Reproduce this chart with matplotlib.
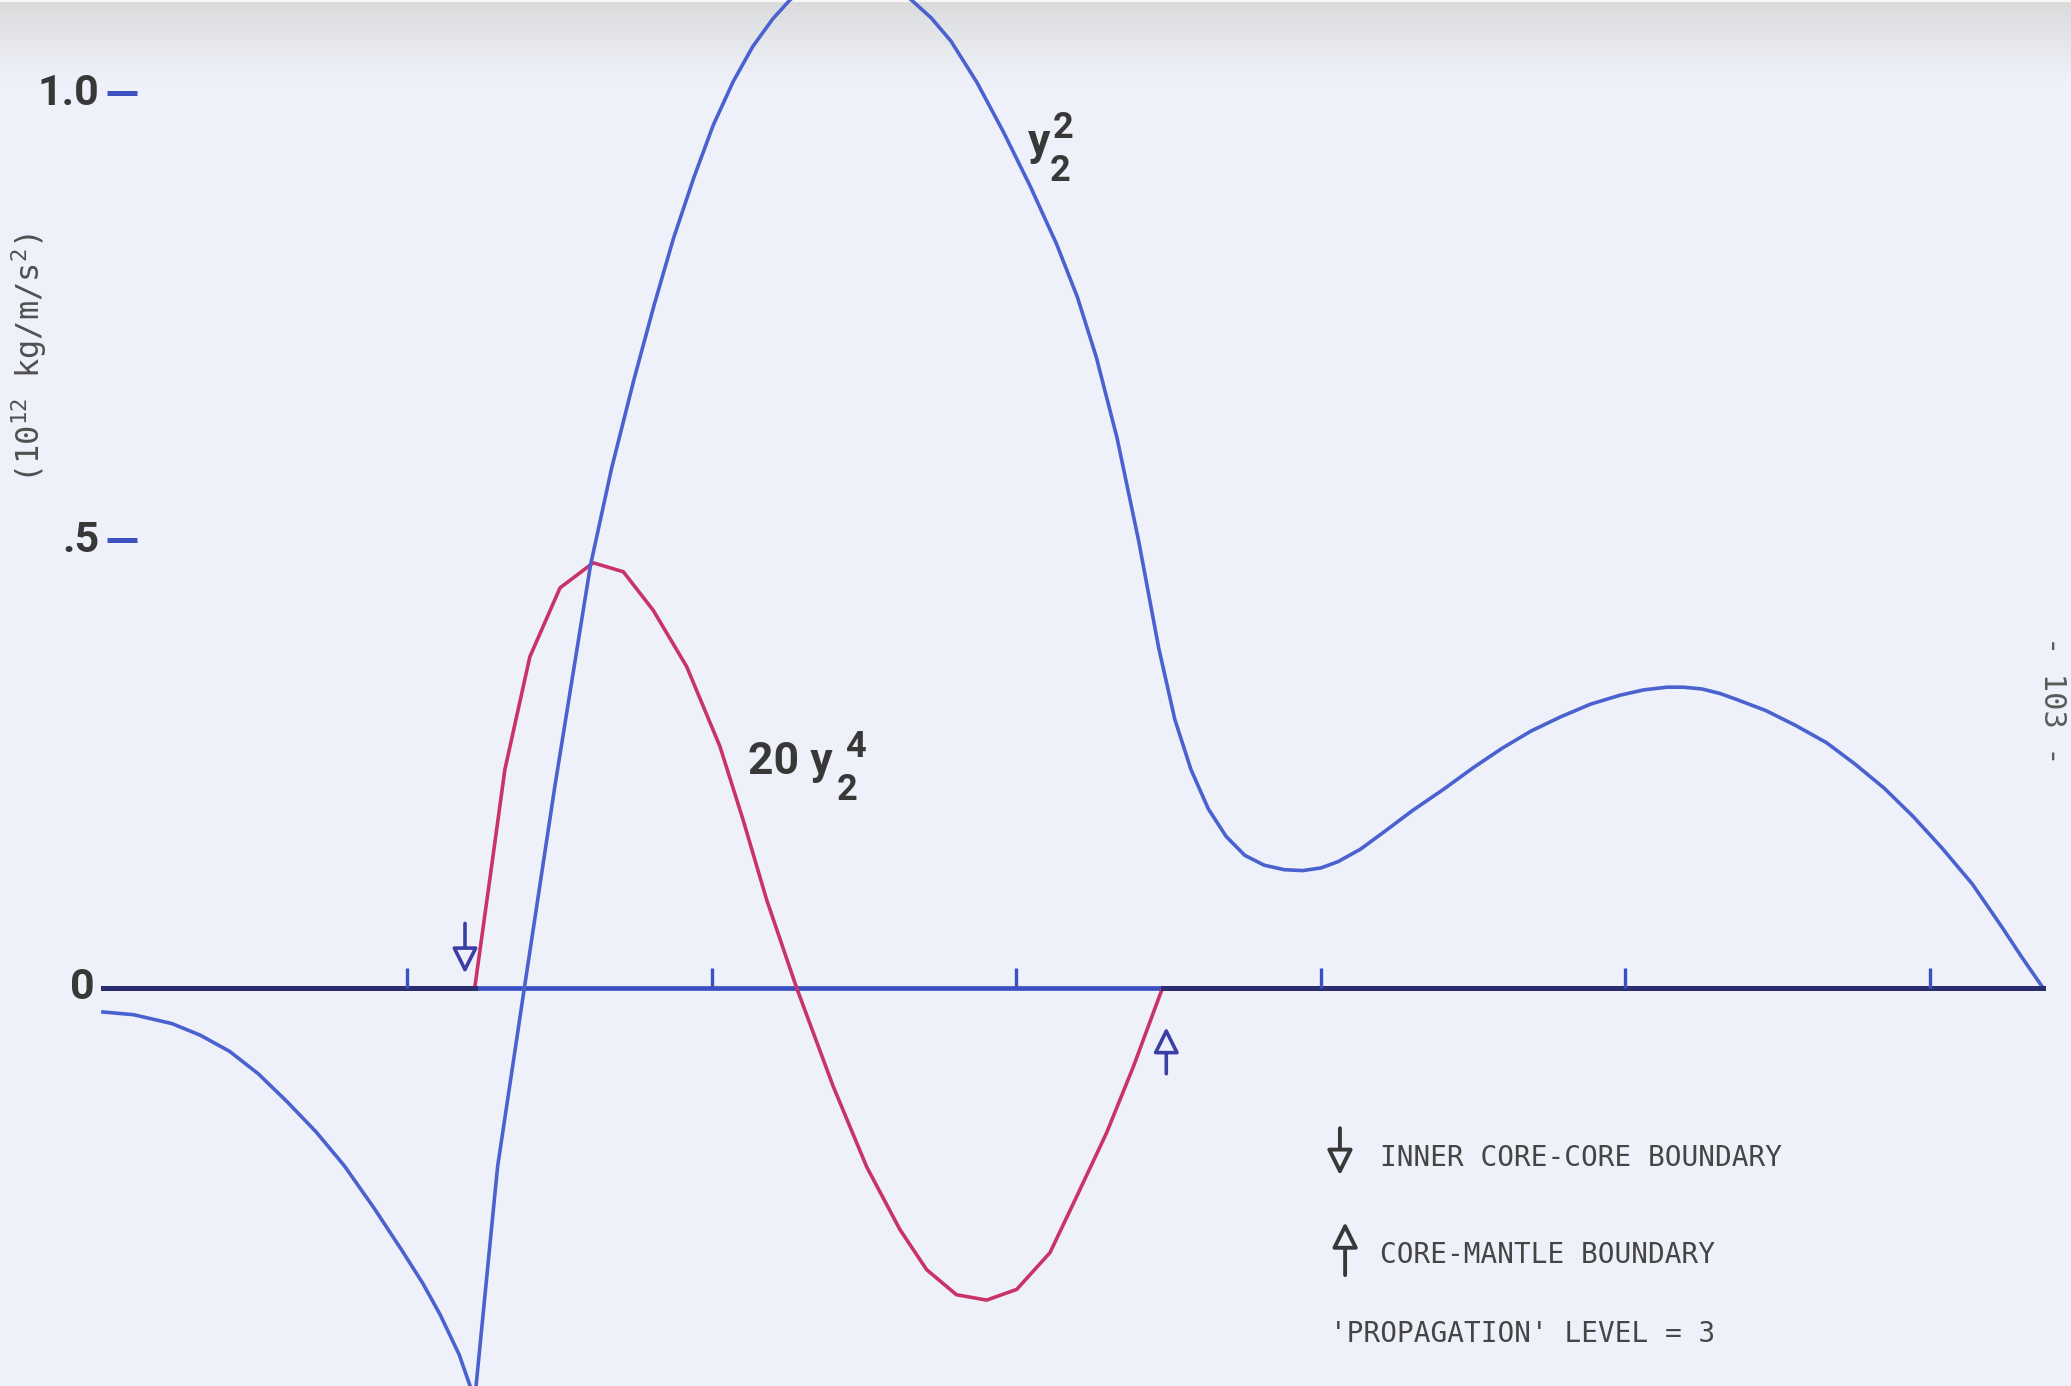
import numpy as np
import matplotlib
matplotlib.use("Agg")
import matplotlib.pyplot as plt

# radius (km) and curve values (10^12 kg/m/s^2)
IC = 1221    # inner core - core boundary
CMB = 3480   # core - mantle boundary
R_EARTH = 6371

blue_r = [0, 100, 227, 320, 416, 510, 604, 700, 793, 890, 981, 1050, 1107, 1170,
          1221, 1296, 1384, 1484, 1601, 1670, 1744, 1810, 1874, 1940, 2004, 2070,
          2134, 2200, 2256, 2350, 2450, 2550, 2655, 2720, 2785, 2870, 2958, 3045,
          3132, 3200, 3262, 3330, 3401, 3467, 3520, 3573, 3630, 3689, 3750, 3814,
          3880, 3940, 4000, 4056, 4130, 4210, 4300, 4403, 4500, 4596, 4690, 4788,
          4885, 4982, 5060, 5136, 5190, 5251, 5310, 5367, 5460, 5560, 5660, 5754,
          5850, 5946, 6040, 6139, 6236, 6300, 6371]
blue_v = [-0.027, -0.030, -0.040, -0.053, -0.071, -0.096, -0.127, -0.161, -0.199,
          -0.246, -0.293, -0.330, -0.365, -0.410, -0.460, -0.200, 0.0, 0.225,
          0.472, 0.580, 0.680, 0.763, 0.838, 0.905, 0.964, 1.013, 1.052, 1.083,
          1.104, 1.131, 1.143, 1.134, 1.104, 1.084, 1.058, 1.012, 0.956, 0.896,
          0.831, 0.772, 0.705, 0.615, 0.500, 0.380, 0.300, 0.244, 0.200, 0.169,
          0.148, 0.137, 0.132, 0.131, 0.134, 0.141, 0.155, 0.175, 0.198, 0.222,
          0.246, 0.268, 0.287, 0.303, 0.317, 0.327, 0.333, 0.336, 0.336, 0.334,
          0.329, 0.322, 0.310, 0.293, 0.274, 0.250, 0.223, 0.191, 0.156, 0.116,
          0.068, 0.035, 0.0]

red_r = [0, 1221, 1270, 1320, 1402, 1501, 1610, 1709, 1807, 1917, 2026, 2102,
         2180, 2278, 2398, 2508, 2617, 2705, 2803, 2902, 3001, 3110, 3198, 3296,
         3384, 3471, 3480, 6371]
red_v = [0, 0, 0.12, 0.244, 0.370, 0.447, 0.475, 0.465, 0.422, 0.359, 0.270,
         0.188, 0.098, 0.0, -0.110, -0.200, -0.270, -0.315, -0.343, -0.349,
         -0.337, -0.296, -0.233, -0.162, -0.088, -0.008, 0, 0]

x_ticks = [1000, 2000, 3000, 4000, 5000, 6000]
y_ticks = [1.0, 0.5]
y_tick_labels = ["1.0", ".5"]

BG = "#eef1f9"
BLUE = "#4a62cf"
RED = "#c93468"
NAVY = "#2b2e6e"
INK = "#383838"
PEN = "#3c3ea8"

fig = plt.figure(figsize=(20.71, 13.86), dpi=100, facecolor=BG)

# scanned page shading at the top edge
bg = fig.add_axes([0, 0.94, 1, 0.06])
top = np.array([0.85, 0.85, 0.85])
base = np.array(matplotlib.colors.to_rgb(BG))
t = np.linspace(0, 1, 80) ** 0.8
grad = (top[None, :] * (1 - t[:, None]) + base[None, :] * t[:, None])
grad[:3] = [0.97, 0.97, 0.97]
bg.imshow(grad[:, None, :], aspect="auto", extent=[0, 1, 0, 1])
bg.axis("off")

ax = fig.add_axes([0, 0, 1, 1])
ax.set_facecolor("none")
ax.set_xlim(-338, 6463)
ax.set_ylim(-0.445, 1.104)
ax.axis("off")

# curves
ax.plot(red_r, red_v, color=RED, lw=2.6, zorder=3, solid_joinstyle="round")
ax.plot(blue_r, blue_v, color=BLUE, lw=2.6, zorder=4, solid_joinstyle="round")

# zero axis (dark where the red curve lies on it)
ax.plot([0, R_EARTH], [0, 0], color="#3b50c2", lw=3.4, zorder=2)
ax.plot([0, IC], [0, 0], color=NAVY, lw=3.6, zorder=5)
ax.plot([CMB, R_EARTH], [0, 0], color=NAVY, lw=3.6, zorder=5)
ax.vlines(x_ticks, 0, 0.022, color="#3b50c2", lw=2.4, zorder=5)

# y ticks and labels
for v, lab in zip(y_ticks, y_tick_labels):
    ax.plot([12, 112], [v, v], color="#3f50c0", lw=3.6, solid_capstyle="butt")
    ax.text(-12, v, lab, ha="right", va="center", fontsize=31,
            family="Roboto", weight="bold", color=INK)
ax.text(-28, 0, "0", ha="right", va="center", fontsize=31,
        family="Roboto", weight="bold", color=INK)

fig.text(0.014, 0.742, r"(10$\mathregular{^{12}}$ kg/m/s$\mathregular{^2}$)",
         rotation=90, ha="center", va="center", fontsize=23,
         family="DejaVu Sans Mono", color="#505050")

# curve labels: hand-lettered, with full size sub/superscripts
lab = dict(family="Roboto", weight="bold", color=INK)


def lettered(x, y, base, sub, sup, sup_dx, sub_dx):
    ax.text(x, y, base, ha="left", va="baseline", fontsize=32, **lab)
    ax.annotate(sup, (x, y), xytext=(sup_dx, 12), textcoords="offset points",
                ha="left", va="baseline", fontsize=26, **lab)
    ax.annotate(sub, (x, y), xytext=(sub_dx, -19), textcoords="offset points",
                ha="left", va="baseline", fontsize=26, **lab)


lettered(3037, 0.931, "y", "2", "2", 18, 16)
lettered(2117, 0.239, "20 y", "2", "4", 70, 64)

# boundary arrows on the curves
arrow = dict(arrowstyle="-|>,head_length=0.7,head_width=0.35", lw=2.6,
             ec=PEN, fc=BG, mutation_scale=22, shrinkA=0, shrinkB=0)
ax.annotate("", xy=(IC - 32, 0.016), xytext=(IC - 32, 0.072), arrowprops=arrow, zorder=6)
ax.annotate("", xy=(CMB + 12, -0.044), xytext=(CMB + 12, -0.096), arrowprops=arrow, zorder=6)

# legend
key = dict(arrowstyle="-|>,head_length=0.7,head_width=0.35", lw=2.8,
           ec=INK, fc=BG, mutation_scale=22, shrinkA=0, shrinkB=0)
ax.annotate("", xy=(0.647, 0.152), xytext=(0.647, 0.186),
            xycoords="figure fraction", arrowprops=key)
ax.annotate("", xy=(0.6495, 0.1183), xytext=(0.6495, 0.080),
            xycoords="figure fraction", arrowprops=key)
legend_font = dict(fontsize=20, family="DejaVu Sans Mono", color="#454545",
                   va="center", ha="left")
fig.text(0.6663, 0.1645, "INNER CORE-CORE BOUNDARY", **legend_font)
fig.text(0.6663, 0.0945, "CORE-MANTLE BOUNDARY", **legend_font)
fig.text(0.642, 0.0375, "'PROPAGATION' LEVEL = 3", **legend_font)

# page number in the margin
fig.text(0.9913, 0.495, "- 103 -", rotation=-90, ha="center", va="center",
         fontsize=22, family="DejaVu Sans Mono", color="#5a5a5a")

plt.savefig("out.png", dpi=100, facecolor=BG)
plt.close()
